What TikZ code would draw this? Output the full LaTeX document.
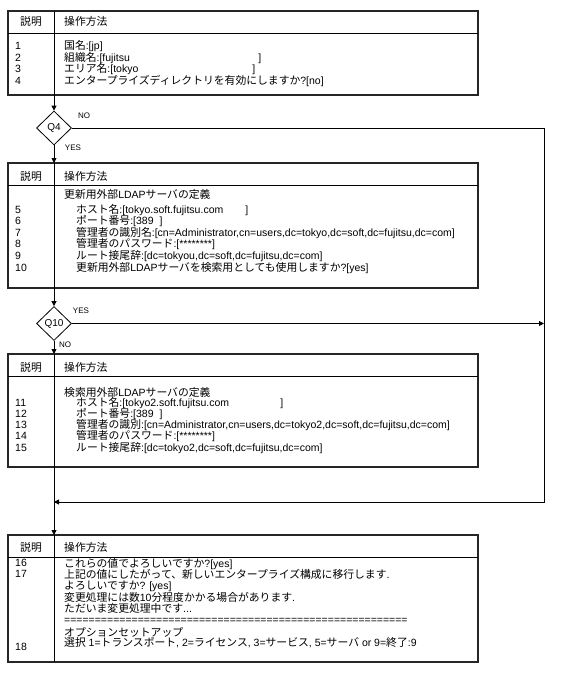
\documentclass[tikz,border=0pt]{standalone}
\usepackage{fontspec}
\setmainfont{Liberation Sans}
\newfontfamily\jpfont{Noto Sans CJK JP}[Scale=1.03]
\usetikzlibrary{shapes.geometric, arrows.meta, positioning}

\newcommand{\jpn}[1]{{\jpfont #1}}
\newcommand{\field}[2]{[\makebox[#1][l]{#2}]}

\begin{document}
\begin{tikzpicture}[
    x=1bp, y=-1bp,
    every node/.style={font=\fontsize{10.5bp}{12bp}\selectfont},
    panel/.style={rectangle, draw=black!85, line width=2.6bp, minimum width=470bp, anchor=north west, inner sep=0pt, outer sep=0pt},
    rule/.style={line width=0.9bp},
    cell/.style={anchor=base west, inner sep=0pt},
    decision/.style={diamond, draw, line width=0.8bp, minimum width=35bp, minimum height=34bp, inner sep=0pt, font=\fontsize{10bp}{12bp}\selectfont},
    flow/.style={-{Triangle[length=5bp, width=5bp]}, line width=0.9bp},
    tag/.style={font=\fontsize{8bp}{9bp}\selectfont, inner sep=0pt}
]

\fill[white] (0,0) rectangle (566,688);
\useasboundingbox (0,0) rectangle (566,688);

% Tables
\node[panel, minimum height=84bp] (t1) at (8,11) {};
\node[panel, minimum height=125bp] (t2) at (8,163) {};
\node[panel, minimum height=113bp] (t3) at (8,354) {};
\node[panel, minimum height=127bp] (t4) at (8,535) {};

% Header rows and column lines
\foreach \t/\y in {t1/26, t2/180, t3/371, t4/551} {
    \draw[rule] ([yshift=-22bp]\t.north west) -- ([yshift=-22bp]\t.north east);
    \draw[rule] ([xshift=46bp]\t.north west) -- ([xshift=46bp]\t.south west);
    \node[cell] (\t-a) at (20,\y) {\jpn{説明}};
    \node[cell] (\t-b) at (64,\y) {\jpn{操作方法}};
}

% Table 1
\node[cell] (n1) at (15,50) {1};
\node[cell] (r1) at (64,50) {\jpn{国名}:[jp]};
\node[cell] (n2) at (15,61.5) {2};
\node[cell] (r2) at (64,61.5) {\jpn{組織名}:\field{156bp}{fujitsu}};
\node[cell] (n3) at (15,73) {3};
\node[cell] (r3) at (64,73) {\jpn{エリア名}:\field{139bp}{tokyo}};
\node[cell] (n4) at (15,84.5) {4};
\node[cell] (r4) at (64,84.5) {\jpn{エンタープライズディレクトリを有効にしますか}?[no]};

% Table 2
\node[cell] (h2) at (64,198) {\jpn{更新用外部}LDAP\jpn{サーバの定義}};
\node[cell] (n5) at (15,213) {5};
\node[cell] (r5) at (76,213) {\jpn{ホスト名}:\field{120bp}{tokyo.soft.fujitsu.com}};
\node[cell] (n6) at (15,224.5) {6};
\node[cell] (r6) at (76,224.5) {\jpn{ポート番号}:[389\hspace{6bp}]};
\node[cell] (n7) at (15,236) {7};
\node[cell] (r7) at (76,236) {\jpn{管理者の識別名}:[cn=Administrator,cn=users,dc=tokyo,dc=soft,dc=fujitsu,dc=com]};
\node[cell] (n8) at (15,247.5) {8};
\node[cell] (r8) at (76,247.5) {\jpn{管理者のパスワード}:[********]};
\node[cell] (n9) at (15,259) {9};
\node[cell] (r9) at (76,259) {\jpn{ルート接尾辞}:[dc=tokyou,dc=soft,dc=fujitsu,dc=com]};
\node[cell] (n10) at (15,271) {10};
\node[cell] (r10) at (76,271) {\jpn{更新用外部}LDAP\jpn{サーバを検索用としても使用しますか}?[yes]};

% Table 3
\node[cell] (h3) at (64,396) {\jpn{検索用外部}LDAP\jpn{サーバの定義}};
\node[cell] (n11) at (15,406.5) {11};
\node[cell] (r11) at (76,406.5) {\jpn{ホスト名}:\field{155bp}{tokyo2.soft.fujitsu.com}};
\node[cell] (n12) at (15,417.5) {12};
\node[cell] (r12) at (76,417.5) {\jpn{ポート番号}:[389\hspace{6bp}]};
\node[cell] (n13) at (15,428.5) {13};
\node[cell] (r13) at (76,428.5) {\jpn{管理者の識別}:[cn=Administrator,cn=users,dc=tokyo2,dc=soft,dc=fujitsu,dc=com]};
\node[cell] (n14) at (15,439.5) {14};
\node[cell] (r14) at (76,439.5) {\jpn{管理者のパスワード}:[********]};
\node[cell] (n15) at (15,451) {15};
\node[cell] (r15) at (76,451) {\jpn{ルート接尾辞}:[dc=tokyo2,dc=soft,dc=fujitsu,dc=com]};

% Table 4
\node[cell] (n16) at (15,566) {16};
\node[cell] (r16) at (64,567) {\jpn{これらの値でよろしいですか}?[yes]};
\node[cell] (n17) at (15,577) {17};
\node[cell] (r17) at (64,578.5) {\jpn{上記の値にしたがって、新しいエンタープライズ構成に移行します}.};
\node[cell] (r17b) at (64,589.5) {\jpn{よろしいですか}? [yes]};
\node[cell] (r17c) at (64,601) {\jpn{変更処理には数}10\jpn{分程度かかる場合があります}.};
\node[cell] (r17d) at (64,612.5) {\jpn{ただいま変更処理中です}...};
\node[cell] (r17e) at (64,623.5) {========================================================};
\node[cell] (r17f) at (64,636) {\jpn{オプションセットアップ}};
\node[cell] (n18) at (15,650) {18};
\node[cell] (r18) at (64,646.5) {\jpn{選択} 1=\jpn{トランスポート}, 2=\jpn{ライセンス}, 3=\jpn{サービス}, 5=\jpn{サーバ} or 9=\jpn{終了}:9};

% Decisions
\node[decision] (q4) at (54,128) {Q4};
\node[decision] (q10) at (54,323.5) {Q10};
\node[tag] (q4-no) at (84,116) {NO};
\node[tag] (q4-yes) at (73,148) {YES};
\node[tag] (q10-yes) at (81,311) {YES};
\node[tag] (q10-no) at (65,345) {NO};

\coordinate (ret) at (544,502);
\coordinate (merge) at (54,502);

% Flow
\draw[flow] (t1.south -| q4) -- (q4.north);
\draw[flow] (q4.south) -- (t2.north -| q4);
\draw[flow] (q4.east) -| (ret) -- (merge);
\draw[flow] (t2.south -| q10) -- (q10.north);
\draw[flow] (q10.east) -- (q10.east -| ret);
\draw[flow] (q10.south) -- (t3.north -| q10);
\draw[flow] (t3.south -| q10) -- (t4.north -| q10);

\end{tikzpicture}
\end{document}
